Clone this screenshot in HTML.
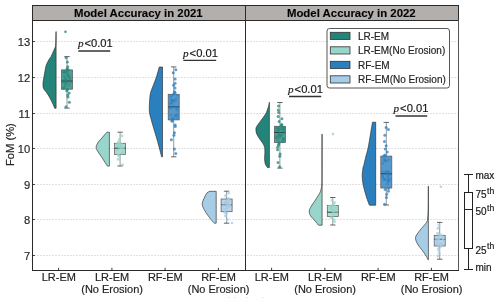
<!DOCTYPE html><html><head><meta charset="utf-8"><style>html,body{margin:0;padding:0;background:#fff;width:500px;height:303px;overflow:hidden}svg{display:block}text{font-family:"Liberation Sans",sans-serif;filter:grayscale(1);stroke:#2a2a2a;stroke-width:0.18px}</style></head><body>
<svg width="500" height="303" viewBox="0 0 500 303">
<rect width="500" height="303" fill="#fff"/>
<line x1="34" y1="255.50" x2="458" y2="255.50" stroke="#e0e0e0" stroke-width="1" stroke-dasharray="2,1"/>
<line x1="34" y1="219.50" x2="458" y2="219.50" stroke="#e0e0e0" stroke-width="1" stroke-dasharray="2,1"/>
<line x1="34" y1="184.50" x2="458" y2="184.50" stroke="#e0e0e0" stroke-width="1" stroke-dasharray="2,1"/>
<line x1="34" y1="148.50" x2="458" y2="148.50" stroke="#e0e0e0" stroke-width="1" stroke-dasharray="2,1"/>
<line x1="34" y1="113.50" x2="458" y2="113.50" stroke="#e0e0e0" stroke-width="1" stroke-dasharray="2,1"/>
<line x1="34" y1="77.50" x2="458" y2="77.50" stroke="#e0e0e0" stroke-width="1" stroke-dasharray="2,1"/>
<line x1="34" y1="41.50" x2="458" y2="41.50" stroke="#e0e0e0" stroke-width="1" stroke-dasharray="2,1"/>
<path d="M56.10,31.60 L56.00,31.60 C55.95,33.83 55.93,42.18 55.70,45.00 C55.47,47.82 55.03,47.33 54.60,48.50 C54.17,49.67 53.68,50.68 53.10,52.00 C52.52,53.32 51.83,55.07 51.10,56.40 C50.37,57.73 49.53,58.47 48.70,60.00 C47.87,61.53 46.68,63.93 46.10,65.60 C45.52,67.27 45.58,67.95 45.20,70.00 C44.82,72.05 44.17,75.70 43.80,77.90 C43.43,80.10 43.05,81.43 43.00,83.20 C42.95,84.97 42.92,86.97 43.50,88.50 C44.08,90.03 45.45,90.87 46.50,92.40 C47.55,93.93 48.80,95.93 49.80,97.70 C50.80,99.47 51.68,101.23 52.50,103.00 C53.32,104.77 54.33,107.42 54.70,108.30 L56.10,108.30 Z" fill="#23857a" stroke="#2b2b2b" stroke-width="0.65" stroke-linejoin="round"/>
<path d="M109.40,132.20 L106.90,132.20 C106.48,132.67 105.38,133.85 104.40,135.00 C103.42,136.15 102.00,137.95 101.00,139.10 C100.00,140.25 99.20,140.63 98.40,141.90 C97.60,143.17 96.35,145.20 96.20,146.70 C96.05,148.20 96.58,149.17 97.50,150.90 C98.42,152.63 100.42,155.13 101.70,157.10 C102.98,159.07 104.25,161.20 105.20,162.70 C106.15,164.20 107.03,165.53 107.40,166.10 L109.40,166.10 Z" fill="#98d5ca" stroke="#2b2b2b" stroke-width="0.65" stroke-linejoin="round"/>
<path d="M162.50,67.00 L159.30,67.00 C158.73,68.92 157.30,74.38 155.90,78.50 C154.50,82.62 151.92,88.40 150.90,91.70 C149.88,95.00 150.05,96.08 149.80,98.30 C149.55,100.52 149.48,103.05 149.40,105.00 C149.32,106.95 149.23,108.48 149.30,110.00 C149.37,111.52 149.32,111.90 149.80,114.10 C150.28,116.30 151.35,120.17 152.20,123.20 C153.05,126.23 154.00,129.27 154.90,132.30 C155.80,135.33 156.75,138.37 157.60,141.40 C158.45,144.43 159.33,147.93 160.00,150.50 C160.67,153.07 161.33,155.75 161.60,156.80 L162.50,156.80 Z" fill="#2a7fbf" stroke="#2b2b2b" stroke-width="0.65" stroke-linejoin="round"/>
<path d="M216.20,191.30 L209.80,191.30 C209.33,191.57 207.87,191.93 207.00,192.90 C206.13,193.87 205.40,195.25 204.60,197.10 C203.80,198.95 202.27,201.92 202.20,204.00 C202.13,206.08 203.28,207.75 204.20,209.60 C205.12,211.45 206.42,213.25 207.70,215.10 C208.98,216.95 210.78,219.35 211.90,220.70 C213.02,222.05 213.98,222.78 214.40,223.20 L216.20,223.20 Z" fill="#a6cce6" stroke="#2b2b2b" stroke-width="0.65" stroke-linejoin="round"/>
<path d="M269.40,102.30 L269.30,102.30 C269.23,102.75 269.10,104.08 268.90,105.00 C268.70,105.92 268.53,106.52 268.10,107.80 C267.67,109.08 267.12,111.08 266.30,112.70 C265.48,114.32 264.33,115.88 263.20,117.50 C262.07,119.12 260.65,120.77 259.50,122.40 C258.35,124.03 256.88,126.03 256.30,127.30 C255.72,128.57 255.97,128.97 256.00,130.00 C256.03,131.03 255.95,132.10 256.50,133.50 C257.05,134.90 258.25,136.77 259.30,138.40 C260.35,140.03 261.92,141.80 262.80,143.30 C263.68,144.80 264.25,145.78 264.60,147.40 C264.95,149.02 264.90,151.15 264.90,153.00 C264.90,154.85 264.53,156.67 264.60,158.50 C264.67,160.33 264.83,162.50 265.30,164.00 C265.77,165.50 267.05,166.92 267.40,167.50 L269.40,167.50 Z" fill="#23857a" stroke="#2b2b2b" stroke-width="0.65" stroke-linejoin="round"/>
<path d="M322.10,134.10 L322.00,134.10 C322.00,140.08 322.01,161.52 321.98,170.00 C321.95,178.48 321.95,181.88 321.80,185.00 C321.65,188.12 321.35,187.55 321.10,188.70 C320.85,189.85 321.13,190.18 320.30,191.90 C319.47,193.62 317.60,196.63 316.10,199.00 C314.60,201.37 312.43,204.12 311.30,206.10 C310.17,208.08 309.43,209.30 309.30,210.90 C309.17,212.50 309.50,213.98 310.50,215.70 C311.50,217.42 313.97,219.62 315.30,221.20 C316.63,222.78 317.97,224.53 318.50,225.20 L322.10,225.20 Z" fill="#98d5ca" stroke="#2b2b2b" stroke-width="0.65" stroke-linejoin="round"/>
<path d="M375.70,122.20 L372.50,122.20 C372.18,124.08 371.32,129.28 370.60,133.50 C369.88,137.72 369.00,143.62 368.20,147.50 C367.40,151.38 366.50,153.97 365.80,156.80 C365.10,159.63 364.47,162.65 364.00,164.50 C363.53,166.35 363.30,166.02 363.00,167.90 C362.70,169.78 362.20,173.15 362.20,175.80 C362.20,178.45 362.55,181.15 363.00,183.80 C363.45,186.45 364.18,189.07 364.90,191.70 C365.62,194.33 366.55,197.35 367.30,199.60 C368.05,201.85 369.05,204.27 369.40,205.20 L375.70,205.20 Z" fill="#2a7fbf" stroke="#2b2b2b" stroke-width="0.65" stroke-linejoin="round"/>
<path d="M428.40,186.20 L428.30,186.20 C428.30,189.33 428.33,200.37 428.28,205.00 C428.23,209.63 428.13,211.88 428.00,214.00 C427.87,216.12 427.70,216.37 427.50,217.70 C427.30,219.03 427.87,220.13 426.80,222.00 C425.73,223.87 422.70,226.90 421.10,228.90 C419.50,230.90 418.13,232.43 417.20,234.00 C416.27,235.57 415.42,236.58 415.50,238.30 C415.58,240.02 416.47,242.15 417.70,244.30 C418.93,246.45 421.47,249.20 422.90,251.20 C424.33,253.20 425.47,254.88 426.30,256.30 C427.13,257.72 427.63,259.13 427.90,259.70 L428.40,259.70 Z" fill="#a6cce6" stroke="#2b2b2b" stroke-width="0.65" stroke-linejoin="round"/>
<line x1="67.00" y1="56.60" x2="67.00" y2="69.90" stroke="#555" stroke-width="0.6"/>
<line x1="67.00" y1="89.20" x2="67.00" y2="108.10" stroke="#555" stroke-width="0.6"/>
<line x1="64.30" y1="56.60" x2="69.70" y2="56.60" stroke="#333" stroke-width="0.75"/>
<line x1="64.30" y1="108.10" x2="69.70" y2="108.10" stroke="#333" stroke-width="0.75"/>
<rect x="61.50" y="69.90" width="11.00" height="19.30" fill="#23857a" fill-opacity="0.8" stroke="#5a5a5a" stroke-width="0.75"/>
<line x1="61.50" y1="81.00" x2="72.50" y2="81.00" stroke="#2b2b2b" stroke-width="0.9"/>
<circle cx="64.21" cy="76.33" r="1.4" fill="#23857a" fill-opacity="0.5"/>
<circle cx="63.58" cy="82.31" r="1.4" fill="#23857a" fill-opacity="0.5"/>
<circle cx="65.93" cy="80.21" r="1.4" fill="#23857a" fill-opacity="0.5"/>
<circle cx="67.06" cy="71.46" r="1.4" fill="#23857a" fill-opacity="0.5"/>
<circle cx="66.47" cy="71.09" r="1.4" fill="#23857a" fill-opacity="0.5"/>
<circle cx="63.73" cy="71.68" r="1.4" fill="#23857a" fill-opacity="0.5"/>
<circle cx="69.61" cy="78.17" r="1.4" fill="#23857a" fill-opacity="0.5"/>
<circle cx="64.79" cy="72.67" r="1.4" fill="#23857a" fill-opacity="0.5"/>
<circle cx="70.58" cy="81.88" r="1.4" fill="#23857a" fill-opacity="0.5"/>
<circle cx="66.17" cy="80.96" r="1.4" fill="#23857a" fill-opacity="0.5"/>
<circle cx="63.37" cy="88.27" r="1.4" fill="#23857a" fill-opacity="0.5"/>
<circle cx="65.32" cy="86.11" r="1.4" fill="#23857a" fill-opacity="0.5"/>
<circle cx="63.94" cy="73.04" r="1.4" fill="#23857a" fill-opacity="0.5"/>
<circle cx="69.53" cy="76.05" r="1.4" fill="#23857a" fill-opacity="0.5"/>
<circle cx="67.65" cy="73.71" r="1.4" fill="#23857a" fill-opacity="0.5"/>
<circle cx="65.98" cy="82.09" r="1.4" fill="#23857a" fill-opacity="0.5"/>
<circle cx="63.50" cy="80.42" r="1.4" fill="#23857a" fill-opacity="0.5"/>
<circle cx="64.65" cy="71.49" r="1.4" fill="#23857a" fill-opacity="0.5"/>
<circle cx="66.42" cy="82.85" r="1.4" fill="#23857a" fill-opacity="0.5"/>
<circle cx="67.68" cy="76.15" r="1.4" fill="#23857a" fill-opacity="0.5"/>
<circle cx="65.40" cy="78.69" r="1.4" fill="#23857a" fill-opacity="0.5"/>
<circle cx="68.59" cy="84.94" r="1.4" fill="#23857a" fill-opacity="0.5"/>
<circle cx="67.60" cy="74.87" r="1.4" fill="#23857a" fill-opacity="0.5"/>
<circle cx="70.00" cy="80.01" r="1.4" fill="#23857a" fill-opacity="0.5"/>
<circle cx="65.30" cy="83.75" r="1.4" fill="#23857a" fill-opacity="0.5"/>
<circle cx="63.94" cy="88.34" r="1.4" fill="#23857a" fill-opacity="0.5"/>
<circle cx="68.23" cy="69.68" r="1.5" fill="#23857a" fill-opacity="0.75"/>
<circle cx="66.95" cy="68.63" r="1.5" fill="#23857a" fill-opacity="0.75"/>
<circle cx="67.81" cy="66.66" r="1.5" fill="#23857a" fill-opacity="0.75"/>
<circle cx="67.35" cy="61.98" r="1.5" fill="#23857a" fill-opacity="0.75"/>
<circle cx="66.11" cy="57.65" r="1.5" fill="#23857a" fill-opacity="0.75"/>
<circle cx="67.45" cy="89.52" r="1.5" fill="#23857a" fill-opacity="0.75"/>
<circle cx="66.79" cy="90.67" r="1.5" fill="#23857a" fill-opacity="0.75"/>
<circle cx="69.13" cy="93.03" r="1.5" fill="#23857a" fill-opacity="0.75"/>
<circle cx="67.79" cy="94.97" r="1.5" fill="#23857a" fill-opacity="0.75"/>
<circle cx="67.97" cy="97.11" r="1.5" fill="#23857a" fill-opacity="0.75"/>
<circle cx="69.37" cy="102.15" r="1.5" fill="#23857a" fill-opacity="0.75"/>
<circle cx="65.97" cy="106.86" r="1.5" fill="#23857a" fill-opacity="0.75"/>
<circle cx="65.50" cy="31.70" r="1.3" fill="#23857a" fill-opacity="0.8"/>
<line x1="120.10" y1="132.20" x2="120.10" y2="143.30" stroke="#555" stroke-width="0.6"/>
<line x1="120.10" y1="154.50" x2="120.10" y2="166.00" stroke="#555" stroke-width="0.6"/>
<line x1="117.40" y1="132.20" x2="122.80" y2="132.20" stroke="#333" stroke-width="0.75"/>
<line x1="117.40" y1="166.00" x2="122.80" y2="166.00" stroke="#333" stroke-width="0.75"/>
<rect x="114.60" y="143.30" width="11.00" height="11.20" fill="#98d5ca" fill-opacity="0.8" stroke="#5a5a5a" stroke-width="0.75"/>
<line x1="114.60" y1="148.20" x2="125.60" y2="148.20" stroke="#2b2b2b" stroke-width="0.9"/>
<circle cx="121.45" cy="147.74" r="1.4" fill="#98d5ca" fill-opacity="0.5"/>
<circle cx="119.79" cy="144.03" r="1.4" fill="#98d5ca" fill-opacity="0.5"/>
<circle cx="117.04" cy="145.51" r="1.4" fill="#98d5ca" fill-opacity="0.5"/>
<circle cx="122.25" cy="144.40" r="1.4" fill="#98d5ca" fill-opacity="0.5"/>
<circle cx="118.08" cy="145.12" r="1.4" fill="#98d5ca" fill-opacity="0.5"/>
<circle cx="123.07" cy="147.79" r="1.4" fill="#98d5ca" fill-opacity="0.5"/>
<circle cx="119.69" cy="144.62" r="1.4" fill="#98d5ca" fill-opacity="0.5"/>
<circle cx="123.17" cy="149.40" r="1.4" fill="#98d5ca" fill-opacity="0.5"/>
<circle cx="123.01" cy="152.16" r="1.4" fill="#98d5ca" fill-opacity="0.5"/>
<circle cx="119.42" cy="146.64" r="1.4" fill="#98d5ca" fill-opacity="0.5"/>
<circle cx="123.17" cy="147.46" r="1.4" fill="#98d5ca" fill-opacity="0.5"/>
<circle cx="117.31" cy="153.57" r="1.4" fill="#98d5ca" fill-opacity="0.5"/>
<circle cx="117.96" cy="145.60" r="1.4" fill="#98d5ca" fill-opacity="0.5"/>
<circle cx="119.98" cy="146.18" r="1.4" fill="#98d5ca" fill-opacity="0.5"/>
<circle cx="118.20" cy="149.81" r="1.4" fill="#98d5ca" fill-opacity="0.5"/>
<circle cx="119.45" cy="143.84" r="1.4" fill="#98d5ca" fill-opacity="0.5"/>
<circle cx="120.63" cy="147.57" r="1.4" fill="#98d5ca" fill-opacity="0.5"/>
<circle cx="121.62" cy="153.52" r="1.4" fill="#98d5ca" fill-opacity="0.5"/>
<circle cx="121.04" cy="149.06" r="1.4" fill="#98d5ca" fill-opacity="0.5"/>
<circle cx="116.53" cy="150.70" r="1.4" fill="#98d5ca" fill-opacity="0.5"/>
<circle cx="122.34" cy="152.98" r="1.4" fill="#98d5ca" fill-opacity="0.5"/>
<circle cx="122.48" cy="152.72" r="1.4" fill="#98d5ca" fill-opacity="0.5"/>
<circle cx="119.29" cy="147.80" r="1.4" fill="#98d5ca" fill-opacity="0.5"/>
<circle cx="121.17" cy="144.86" r="1.4" fill="#98d5ca" fill-opacity="0.5"/>
<circle cx="116.64" cy="144.43" r="1.4" fill="#98d5ca" fill-opacity="0.5"/>
<circle cx="117.40" cy="145.93" r="1.4" fill="#98d5ca" fill-opacity="0.5"/>
<circle cx="117.95" cy="143.09" r="1.5" fill="#98d5ca" fill-opacity="0.75"/>
<circle cx="118.43" cy="141.97" r="1.5" fill="#98d5ca" fill-opacity="0.75"/>
<circle cx="119.45" cy="139.22" r="1.5" fill="#98d5ca" fill-opacity="0.75"/>
<circle cx="121.90" cy="135.83" r="1.5" fill="#98d5ca" fill-opacity="0.75"/>
<circle cx="118.41" cy="154.93" r="1.5" fill="#98d5ca" fill-opacity="0.75"/>
<circle cx="119.37" cy="156.26" r="1.5" fill="#98d5ca" fill-opacity="0.75"/>
<circle cx="118.29" cy="159.34" r="1.5" fill="#98d5ca" fill-opacity="0.75"/>
<circle cx="122.47" cy="164.78" r="1.5" fill="#98d5ca" fill-opacity="0.75"/>
<line x1="173.70" y1="66.90" x2="173.70" y2="94.30" stroke="#555" stroke-width="0.6"/>
<line x1="173.70" y1="119.90" x2="173.70" y2="156.80" stroke="#555" stroke-width="0.6"/>
<line x1="171.00" y1="66.90" x2="176.40" y2="66.90" stroke="#333" stroke-width="0.75"/>
<line x1="171.00" y1="156.80" x2="176.40" y2="156.80" stroke="#333" stroke-width="0.75"/>
<rect x="168.20" y="94.30" width="11.00" height="25.60" fill="#2a7fbf" fill-opacity="0.8" stroke="#5a5a5a" stroke-width="0.75"/>
<line x1="168.20" y1="106.90" x2="179.20" y2="106.90" stroke="#2b2b2b" stroke-width="0.9"/>
<circle cx="173.57" cy="106.26" r="1.4" fill="#2a7fbf" fill-opacity="0.5"/>
<circle cx="170.52" cy="96.91" r="1.4" fill="#2a7fbf" fill-opacity="0.5"/>
<circle cx="171.82" cy="103.23" r="1.4" fill="#2a7fbf" fill-opacity="0.5"/>
<circle cx="170.99" cy="115.19" r="1.4" fill="#2a7fbf" fill-opacity="0.5"/>
<circle cx="177.31" cy="95.37" r="1.4" fill="#2a7fbf" fill-opacity="0.5"/>
<circle cx="170.87" cy="107.80" r="1.4" fill="#2a7fbf" fill-opacity="0.5"/>
<circle cx="169.92" cy="108.16" r="1.4" fill="#2a7fbf" fill-opacity="0.5"/>
<circle cx="177.53" cy="107.79" r="1.4" fill="#2a7fbf" fill-opacity="0.5"/>
<circle cx="175.27" cy="116.04" r="1.4" fill="#2a7fbf" fill-opacity="0.5"/>
<circle cx="172.63" cy="101.22" r="1.4" fill="#2a7fbf" fill-opacity="0.5"/>
<circle cx="175.88" cy="98.91" r="1.4" fill="#2a7fbf" fill-opacity="0.5"/>
<circle cx="175.93" cy="107.90" r="1.4" fill="#2a7fbf" fill-opacity="0.5"/>
<circle cx="171.48" cy="102.91" r="1.4" fill="#2a7fbf" fill-opacity="0.5"/>
<circle cx="177.58" cy="114.76" r="1.4" fill="#2a7fbf" fill-opacity="0.5"/>
<circle cx="176.15" cy="115.77" r="1.4" fill="#2a7fbf" fill-opacity="0.5"/>
<circle cx="175.62" cy="114.93" r="1.4" fill="#2a7fbf" fill-opacity="0.5"/>
<circle cx="173.84" cy="100.38" r="1.4" fill="#2a7fbf" fill-opacity="0.5"/>
<circle cx="169.93" cy="103.55" r="1.4" fill="#2a7fbf" fill-opacity="0.5"/>
<circle cx="171.94" cy="95.49" r="1.4" fill="#2a7fbf" fill-opacity="0.5"/>
<circle cx="175.24" cy="101.18" r="1.4" fill="#2a7fbf" fill-opacity="0.5"/>
<circle cx="173.28" cy="118.33" r="1.4" fill="#2a7fbf" fill-opacity="0.5"/>
<circle cx="177.60" cy="117.85" r="1.4" fill="#2a7fbf" fill-opacity="0.5"/>
<circle cx="172.62" cy="118.29" r="1.4" fill="#2a7fbf" fill-opacity="0.5"/>
<circle cx="171.51" cy="100.22" r="1.4" fill="#2a7fbf" fill-opacity="0.5"/>
<circle cx="171.33" cy="99.64" r="1.4" fill="#2a7fbf" fill-opacity="0.5"/>
<circle cx="176.90" cy="110.15" r="1.4" fill="#2a7fbf" fill-opacity="0.5"/>
<circle cx="173.60" cy="93.91" r="1.5" fill="#2a7fbf" fill-opacity="0.75"/>
<circle cx="175.14" cy="92.84" r="1.5" fill="#2a7fbf" fill-opacity="0.75"/>
<circle cx="174.47" cy="91.78" r="1.5" fill="#2a7fbf" fill-opacity="0.75"/>
<circle cx="175.06" cy="88.01" r="1.5" fill="#2a7fbf" fill-opacity="0.75"/>
<circle cx="173.59" cy="85.30" r="1.5" fill="#2a7fbf" fill-opacity="0.75"/>
<circle cx="175.09" cy="83.25" r="1.5" fill="#2a7fbf" fill-opacity="0.75"/>
<circle cx="175.14" cy="79.02" r="1.5" fill="#2a7fbf" fill-opacity="0.75"/>
<circle cx="173.20" cy="72.68" r="1.5" fill="#2a7fbf" fill-opacity="0.75"/>
<circle cx="175.84" cy="69.78" r="1.5" fill="#2a7fbf" fill-opacity="0.75"/>
<circle cx="172.12" cy="120.33" r="1.5" fill="#2a7fbf" fill-opacity="0.75"/>
<circle cx="172.03" cy="121.17" r="1.5" fill="#2a7fbf" fill-opacity="0.75"/>
<circle cx="175.17" cy="124.92" r="1.5" fill="#2a7fbf" fill-opacity="0.75"/>
<circle cx="175.27" cy="126.44" r="1.5" fill="#2a7fbf" fill-opacity="0.75"/>
<circle cx="174.45" cy="132.74" r="1.5" fill="#2a7fbf" fill-opacity="0.75"/>
<circle cx="173.93" cy="135.36" r="1.5" fill="#2a7fbf" fill-opacity="0.75"/>
<circle cx="171.37" cy="139.71" r="1.5" fill="#2a7fbf" fill-opacity="0.75"/>
<circle cx="174.42" cy="149.02" r="1.5" fill="#2a7fbf" fill-opacity="0.75"/>
<circle cx="175.78" cy="153.51" r="1.5" fill="#2a7fbf" fill-opacity="0.75"/>
<line x1="226.60" y1="191.20" x2="226.60" y2="199.00" stroke="#555" stroke-width="0.6"/>
<line x1="226.60" y1="211.70" x2="226.60" y2="223.20" stroke="#555" stroke-width="0.6"/>
<line x1="223.90" y1="191.20" x2="229.30" y2="191.20" stroke="#333" stroke-width="0.75"/>
<line x1="223.90" y1="223.20" x2="229.30" y2="223.20" stroke="#333" stroke-width="0.75"/>
<rect x="221.10" y="199.00" width="11.00" height="12.70" fill="#a6cce6" fill-opacity="0.8" stroke="#5a5a5a" stroke-width="0.75"/>
<line x1="221.10" y1="204.80" x2="232.10" y2="204.80" stroke="#2b2b2b" stroke-width="0.9"/>
<circle cx="229.57" cy="204.58" r="1.4" fill="#a6cce6" fill-opacity="0.5"/>
<circle cx="224.29" cy="209.17" r="1.4" fill="#a6cce6" fill-opacity="0.5"/>
<circle cx="224.94" cy="202.45" r="1.4" fill="#a6cce6" fill-opacity="0.5"/>
<circle cx="227.29" cy="202.31" r="1.4" fill="#a6cce6" fill-opacity="0.5"/>
<circle cx="225.95" cy="202.53" r="1.4" fill="#a6cce6" fill-opacity="0.5"/>
<circle cx="229.88" cy="201.03" r="1.4" fill="#a6cce6" fill-opacity="0.5"/>
<circle cx="226.27" cy="203.64" r="1.4" fill="#a6cce6" fill-opacity="0.5"/>
<circle cx="229.83" cy="206.33" r="1.4" fill="#a6cce6" fill-opacity="0.5"/>
<circle cx="229.94" cy="204.42" r="1.4" fill="#a6cce6" fill-opacity="0.5"/>
<circle cx="226.85" cy="205.37" r="1.4" fill="#a6cce6" fill-opacity="0.5"/>
<circle cx="222.75" cy="205.63" r="1.4" fill="#a6cce6" fill-opacity="0.5"/>
<circle cx="224.06" cy="204.65" r="1.4" fill="#a6cce6" fill-opacity="0.5"/>
<circle cx="228.99" cy="199.55" r="1.4" fill="#a6cce6" fill-opacity="0.5"/>
<circle cx="226.39" cy="201.52" r="1.4" fill="#a6cce6" fill-opacity="0.5"/>
<circle cx="227.05" cy="207.98" r="1.4" fill="#a6cce6" fill-opacity="0.5"/>
<circle cx="226.75" cy="203.31" r="1.4" fill="#a6cce6" fill-opacity="0.5"/>
<circle cx="228.87" cy="206.00" r="1.4" fill="#a6cce6" fill-opacity="0.5"/>
<circle cx="227.08" cy="200.74" r="1.4" fill="#a6cce6" fill-opacity="0.5"/>
<circle cx="224.82" cy="202.41" r="1.4" fill="#a6cce6" fill-opacity="0.5"/>
<circle cx="226.66" cy="208.54" r="1.4" fill="#a6cce6" fill-opacity="0.5"/>
<circle cx="228.68" cy="206.07" r="1.4" fill="#a6cce6" fill-opacity="0.5"/>
<circle cx="226.15" cy="210.18" r="1.4" fill="#a6cce6" fill-opacity="0.5"/>
<circle cx="226.64" cy="206.67" r="1.4" fill="#a6cce6" fill-opacity="0.5"/>
<circle cx="228.14" cy="205.49" r="1.4" fill="#a6cce6" fill-opacity="0.5"/>
<circle cx="226.87" cy="204.79" r="1.4" fill="#a6cce6" fill-opacity="0.5"/>
<circle cx="230.13" cy="205.09" r="1.4" fill="#a6cce6" fill-opacity="0.5"/>
<circle cx="228.41" cy="198.44" r="1.5" fill="#a6cce6" fill-opacity="0.75"/>
<circle cx="225.45" cy="195.70" r="1.5" fill="#a6cce6" fill-opacity="0.75"/>
<circle cx="228.73" cy="193.12" r="1.5" fill="#a6cce6" fill-opacity="0.75"/>
<circle cx="224.86" cy="212.35" r="1.5" fill="#a6cce6" fill-opacity="0.75"/>
<circle cx="226.32" cy="213.26" r="1.5" fill="#a6cce6" fill-opacity="0.75"/>
<circle cx="225.36" cy="215.86" r="1.5" fill="#a6cce6" fill-opacity="0.75"/>
<circle cx="227.41" cy="219.57" r="1.5" fill="#a6cce6" fill-opacity="0.75"/>
<circle cx="232.00" cy="223.00" r="1.3" fill="#a6cce6" fill-opacity="0.8"/>
<line x1="279.90" y1="102.50" x2="279.90" y2="126.30" stroke="#555" stroke-width="0.6"/>
<line x1="279.90" y1="142.40" x2="279.90" y2="168.10" stroke="#555" stroke-width="0.6"/>
<line x1="277.20" y1="102.50" x2="282.60" y2="102.50" stroke="#333" stroke-width="0.75"/>
<line x1="277.20" y1="168.10" x2="282.60" y2="168.10" stroke="#333" stroke-width="0.75"/>
<rect x="274.40" y="126.30" width="11.00" height="16.10" fill="#23857a" fill-opacity="0.8" stroke="#5a5a5a" stroke-width="0.75"/>
<line x1="274.40" y1="132.40" x2="285.40" y2="132.40" stroke="#2b2b2b" stroke-width="0.9"/>
<circle cx="283.08" cy="138.64" r="1.4" fill="#23857a" fill-opacity="0.5"/>
<circle cx="281.63" cy="129.13" r="1.4" fill="#23857a" fill-opacity="0.5"/>
<circle cx="277.04" cy="136.77" r="1.4" fill="#23857a" fill-opacity="0.5"/>
<circle cx="283.64" cy="140.13" r="1.4" fill="#23857a" fill-opacity="0.5"/>
<circle cx="283.52" cy="130.12" r="1.4" fill="#23857a" fill-opacity="0.5"/>
<circle cx="279.80" cy="132.81" r="1.4" fill="#23857a" fill-opacity="0.5"/>
<circle cx="282.56" cy="141.75" r="1.4" fill="#23857a" fill-opacity="0.5"/>
<circle cx="279.35" cy="129.24" r="1.4" fill="#23857a" fill-opacity="0.5"/>
<circle cx="278.61" cy="134.59" r="1.4" fill="#23857a" fill-opacity="0.5"/>
<circle cx="278.45" cy="129.76" r="1.4" fill="#23857a" fill-opacity="0.5"/>
<circle cx="276.06" cy="137.70" r="1.4" fill="#23857a" fill-opacity="0.5"/>
<circle cx="279.42" cy="135.17" r="1.4" fill="#23857a" fill-opacity="0.5"/>
<circle cx="278.55" cy="127.07" r="1.4" fill="#23857a" fill-opacity="0.5"/>
<circle cx="280.00" cy="136.22" r="1.4" fill="#23857a" fill-opacity="0.5"/>
<circle cx="283.78" cy="127.77" r="1.4" fill="#23857a" fill-opacity="0.5"/>
<circle cx="283.67" cy="138.70" r="1.4" fill="#23857a" fill-opacity="0.5"/>
<circle cx="278.02" cy="128.38" r="1.4" fill="#23857a" fill-opacity="0.5"/>
<circle cx="282.13" cy="127.40" r="1.4" fill="#23857a" fill-opacity="0.5"/>
<circle cx="276.94" cy="130.88" r="1.4" fill="#23857a" fill-opacity="0.5"/>
<circle cx="283.19" cy="133.18" r="1.4" fill="#23857a" fill-opacity="0.5"/>
<circle cx="277.97" cy="139.17" r="1.4" fill="#23857a" fill-opacity="0.5"/>
<circle cx="283.25" cy="129.06" r="1.4" fill="#23857a" fill-opacity="0.5"/>
<circle cx="281.50" cy="135.42" r="1.4" fill="#23857a" fill-opacity="0.5"/>
<circle cx="276.36" cy="128.15" r="1.4" fill="#23857a" fill-opacity="0.5"/>
<circle cx="279.30" cy="137.19" r="1.4" fill="#23857a" fill-opacity="0.5"/>
<circle cx="283.41" cy="127.89" r="1.4" fill="#23857a" fill-opacity="0.5"/>
<circle cx="281.35" cy="126.07" r="1.5" fill="#23857a" fill-opacity="0.75"/>
<circle cx="281.61" cy="125.52" r="1.5" fill="#23857a" fill-opacity="0.75"/>
<circle cx="281.64" cy="124.14" r="1.5" fill="#23857a" fill-opacity="0.75"/>
<circle cx="279.13" cy="121.60" r="1.5" fill="#23857a" fill-opacity="0.75"/>
<circle cx="281.95" cy="118.87" r="1.5" fill="#23857a" fill-opacity="0.75"/>
<circle cx="278.12" cy="116.51" r="1.5" fill="#23857a" fill-opacity="0.75"/>
<circle cx="278.64" cy="112.55" r="1.5" fill="#23857a" fill-opacity="0.75"/>
<circle cx="278.27" cy="109.91" r="1.5" fill="#23857a" fill-opacity="0.75"/>
<circle cx="278.47" cy="106.05" r="1.5" fill="#23857a" fill-opacity="0.75"/>
<circle cx="278.96" cy="142.51" r="1.5" fill="#23857a" fill-opacity="0.75"/>
<circle cx="278.89" cy="143.88" r="1.5" fill="#23857a" fill-opacity="0.75"/>
<circle cx="278.35" cy="145.31" r="1.5" fill="#23857a" fill-opacity="0.75"/>
<circle cx="277.59" cy="147.29" r="1.5" fill="#23857a" fill-opacity="0.75"/>
<circle cx="277.57" cy="149.80" r="1.5" fill="#23857a" fill-opacity="0.75"/>
<circle cx="280.15" cy="154.09" r="1.5" fill="#23857a" fill-opacity="0.75"/>
<circle cx="279.78" cy="156.35" r="1.5" fill="#23857a" fill-opacity="0.75"/>
<circle cx="278.01" cy="162.57" r="1.5" fill="#23857a" fill-opacity="0.75"/>
<circle cx="279.57" cy="166.77" r="1.5" fill="#23857a" fill-opacity="0.75"/>
<line x1="332.80" y1="197.50" x2="332.80" y2="205.40" stroke="#555" stroke-width="0.6"/>
<line x1="332.80" y1="216.40" x2="332.80" y2="225.00" stroke="#555" stroke-width="0.6"/>
<line x1="330.10" y1="197.50" x2="335.50" y2="197.50" stroke="#333" stroke-width="0.75"/>
<line x1="330.10" y1="225.00" x2="335.50" y2="225.00" stroke="#333" stroke-width="0.75"/>
<rect x="327.30" y="205.40" width="11.00" height="11.00" fill="#98d5ca" fill-opacity="0.8" stroke="#5a5a5a" stroke-width="0.75"/>
<line x1="327.30" y1="212.20" x2="338.30" y2="212.20" stroke="#2b2b2b" stroke-width="0.9"/>
<circle cx="335.48" cy="210.85" r="1.4" fill="#98d5ca" fill-opacity="0.5"/>
<circle cx="332.85" cy="209.83" r="1.4" fill="#98d5ca" fill-opacity="0.5"/>
<circle cx="336.66" cy="212.78" r="1.4" fill="#98d5ca" fill-opacity="0.5"/>
<circle cx="335.46" cy="209.33" r="1.4" fill="#98d5ca" fill-opacity="0.5"/>
<circle cx="333.89" cy="212.97" r="1.4" fill="#98d5ca" fill-opacity="0.5"/>
<circle cx="331.58" cy="209.95" r="1.4" fill="#98d5ca" fill-opacity="0.5"/>
<circle cx="329.84" cy="206.44" r="1.4" fill="#98d5ca" fill-opacity="0.5"/>
<circle cx="334.73" cy="206.61" r="1.4" fill="#98d5ca" fill-opacity="0.5"/>
<circle cx="330.11" cy="208.46" r="1.4" fill="#98d5ca" fill-opacity="0.5"/>
<circle cx="335.53" cy="206.74" r="1.4" fill="#98d5ca" fill-opacity="0.5"/>
<circle cx="334.16" cy="214.61" r="1.4" fill="#98d5ca" fill-opacity="0.5"/>
<circle cx="330.74" cy="208.72" r="1.4" fill="#98d5ca" fill-opacity="0.5"/>
<circle cx="332.48" cy="208.83" r="1.4" fill="#98d5ca" fill-opacity="0.5"/>
<circle cx="332.37" cy="207.48" r="1.4" fill="#98d5ca" fill-opacity="0.5"/>
<circle cx="336.49" cy="208.53" r="1.4" fill="#98d5ca" fill-opacity="0.5"/>
<circle cx="333.18" cy="215.63" r="1.4" fill="#98d5ca" fill-opacity="0.5"/>
<circle cx="336.53" cy="208.34" r="1.4" fill="#98d5ca" fill-opacity="0.5"/>
<circle cx="331.65" cy="209.00" r="1.4" fill="#98d5ca" fill-opacity="0.5"/>
<circle cx="331.85" cy="205.91" r="1.4" fill="#98d5ca" fill-opacity="0.5"/>
<circle cx="332.82" cy="210.65" r="1.4" fill="#98d5ca" fill-opacity="0.5"/>
<circle cx="332.84" cy="207.91" r="1.4" fill="#98d5ca" fill-opacity="0.5"/>
<circle cx="330.91" cy="205.95" r="1.4" fill="#98d5ca" fill-opacity="0.5"/>
<circle cx="332.00" cy="206.80" r="1.4" fill="#98d5ca" fill-opacity="0.5"/>
<circle cx="328.98" cy="206.32" r="1.4" fill="#98d5ca" fill-opacity="0.5"/>
<circle cx="330.66" cy="208.94" r="1.4" fill="#98d5ca" fill-opacity="0.5"/>
<circle cx="333.03" cy="211.76" r="1.4" fill="#98d5ca" fill-opacity="0.5"/>
<circle cx="333.56" cy="204.77" r="1.5" fill="#98d5ca" fill-opacity="0.75"/>
<circle cx="334.62" cy="202.54" r="1.5" fill="#98d5ca" fill-opacity="0.75"/>
<circle cx="331.97" cy="199.91" r="1.5" fill="#98d5ca" fill-opacity="0.75"/>
<circle cx="331.12" cy="217.39" r="1.5" fill="#98d5ca" fill-opacity="0.75"/>
<circle cx="333.49" cy="219.53" r="1.5" fill="#98d5ca" fill-opacity="0.75"/>
<circle cx="334.41" cy="221.40" r="1.5" fill="#98d5ca" fill-opacity="0.75"/>
<circle cx="333.00" cy="134.10" r="1.3" fill="#98d5ca" fill-opacity="0.8"/>
<line x1="386.30" y1="122.40" x2="386.30" y2="156.10" stroke="#555" stroke-width="0.6"/>
<line x1="386.30" y1="188.00" x2="386.30" y2="205.00" stroke="#555" stroke-width="0.6"/>
<line x1="383.60" y1="122.40" x2="389.00" y2="122.40" stroke="#333" stroke-width="0.75"/>
<line x1="383.60" y1="205.00" x2="389.00" y2="205.00" stroke="#333" stroke-width="0.75"/>
<rect x="380.80" y="156.10" width="11.00" height="31.90" fill="#2a7fbf" fill-opacity="0.8" stroke="#5a5a5a" stroke-width="0.75"/>
<line x1="380.80" y1="173.80" x2="391.80" y2="173.80" stroke="#2b2b2b" stroke-width="0.9"/>
<circle cx="387.32" cy="184.16" r="1.4" fill="#2a7fbf" fill-opacity="0.5"/>
<circle cx="388.80" cy="179.28" r="1.4" fill="#2a7fbf" fill-opacity="0.5"/>
<circle cx="386.49" cy="160.90" r="1.4" fill="#2a7fbf" fill-opacity="0.5"/>
<circle cx="388.98" cy="172.19" r="1.4" fill="#2a7fbf" fill-opacity="0.5"/>
<circle cx="388.91" cy="181.46" r="1.4" fill="#2a7fbf" fill-opacity="0.5"/>
<circle cx="389.44" cy="174.65" r="1.4" fill="#2a7fbf" fill-opacity="0.5"/>
<circle cx="387.85" cy="177.70" r="1.4" fill="#2a7fbf" fill-opacity="0.5"/>
<circle cx="382.55" cy="163.71" r="1.4" fill="#2a7fbf" fill-opacity="0.5"/>
<circle cx="385.19" cy="160.71" r="1.4" fill="#2a7fbf" fill-opacity="0.5"/>
<circle cx="388.99" cy="159.84" r="1.4" fill="#2a7fbf" fill-opacity="0.5"/>
<circle cx="387.32" cy="173.86" r="1.4" fill="#2a7fbf" fill-opacity="0.5"/>
<circle cx="387.75" cy="175.95" r="1.4" fill="#2a7fbf" fill-opacity="0.5"/>
<circle cx="382.33" cy="171.72" r="1.4" fill="#2a7fbf" fill-opacity="0.5"/>
<circle cx="388.29" cy="181.25" r="1.4" fill="#2a7fbf" fill-opacity="0.5"/>
<circle cx="386.58" cy="172.14" r="1.4" fill="#2a7fbf" fill-opacity="0.5"/>
<circle cx="382.83" cy="176.97" r="1.4" fill="#2a7fbf" fill-opacity="0.5"/>
<circle cx="384.32" cy="179.37" r="1.4" fill="#2a7fbf" fill-opacity="0.5"/>
<circle cx="384.42" cy="158.90" r="1.4" fill="#2a7fbf" fill-opacity="0.5"/>
<circle cx="383.94" cy="179.14" r="1.4" fill="#2a7fbf" fill-opacity="0.5"/>
<circle cx="390.11" cy="179.46" r="1.4" fill="#2a7fbf" fill-opacity="0.5"/>
<circle cx="385.36" cy="171.86" r="1.4" fill="#2a7fbf" fill-opacity="0.5"/>
<circle cx="387.77" cy="171.40" r="1.4" fill="#2a7fbf" fill-opacity="0.5"/>
<circle cx="387.24" cy="180.30" r="1.4" fill="#2a7fbf" fill-opacity="0.5"/>
<circle cx="382.92" cy="176.46" r="1.4" fill="#2a7fbf" fill-opacity="0.5"/>
<circle cx="384.33" cy="161.16" r="1.4" fill="#2a7fbf" fill-opacity="0.5"/>
<circle cx="384.74" cy="179.57" r="1.4" fill="#2a7fbf" fill-opacity="0.5"/>
<circle cx="383.96" cy="155.81" r="1.5" fill="#2a7fbf" fill-opacity="0.75"/>
<circle cx="385.19" cy="155.02" r="1.5" fill="#2a7fbf" fill-opacity="0.75"/>
<circle cx="387.22" cy="151.96" r="1.5" fill="#2a7fbf" fill-opacity="0.75"/>
<circle cx="385.30" cy="148.92" r="1.5" fill="#2a7fbf" fill-opacity="0.75"/>
<circle cx="386.13" cy="145.68" r="1.5" fill="#2a7fbf" fill-opacity="0.75"/>
<circle cx="384.47" cy="141.62" r="1.5" fill="#2a7fbf" fill-opacity="0.75"/>
<circle cx="384.86" cy="135.30" r="1.5" fill="#2a7fbf" fill-opacity="0.75"/>
<circle cx="388.39" cy="129.48" r="1.5" fill="#2a7fbf" fill-opacity="0.75"/>
<circle cx="386.10" cy="127.56" r="1.5" fill="#2a7fbf" fill-opacity="0.75"/>
<circle cx="388.55" cy="188.47" r="1.5" fill="#2a7fbf" fill-opacity="0.75"/>
<circle cx="385.19" cy="189.55" r="1.5" fill="#2a7fbf" fill-opacity="0.75"/>
<circle cx="388.44" cy="191.32" r="1.5" fill="#2a7fbf" fill-opacity="0.75"/>
<circle cx="386.69" cy="194.14" r="1.5" fill="#2a7fbf" fill-opacity="0.75"/>
<circle cx="386.42" cy="197.46" r="1.5" fill="#2a7fbf" fill-opacity="0.75"/>
<circle cx="384.54" cy="204.13" r="1.5" fill="#2a7fbf" fill-opacity="0.75"/>
<line x1="439.70" y1="222.40" x2="439.70" y2="235.30" stroke="#555" stroke-width="0.6"/>
<line x1="439.70" y1="246.00" x2="439.70" y2="259.20" stroke="#555" stroke-width="0.6"/>
<line x1="437.00" y1="222.40" x2="442.40" y2="222.40" stroke="#333" stroke-width="0.75"/>
<line x1="437.00" y1="259.20" x2="442.40" y2="259.20" stroke="#333" stroke-width="0.75"/>
<rect x="434.20" y="235.30" width="11.00" height="10.70" fill="#a6cce6" fill-opacity="0.8" stroke="#5a5a5a" stroke-width="0.75"/>
<line x1="434.20" y1="239.30" x2="445.20" y2="239.30" stroke="#2b2b2b" stroke-width="0.9"/>
<circle cx="439.77" cy="243.76" r="1.4" fill="#a6cce6" fill-opacity="0.5"/>
<circle cx="441.33" cy="244.40" r="1.4" fill="#a6cce6" fill-opacity="0.5"/>
<circle cx="442.88" cy="238.04" r="1.4" fill="#a6cce6" fill-opacity="0.5"/>
<circle cx="435.90" cy="240.52" r="1.4" fill="#a6cce6" fill-opacity="0.5"/>
<circle cx="439.63" cy="235.83" r="1.4" fill="#a6cce6" fill-opacity="0.5"/>
<circle cx="438.12" cy="240.17" r="1.4" fill="#a6cce6" fill-opacity="0.5"/>
<circle cx="438.45" cy="237.16" r="1.4" fill="#a6cce6" fill-opacity="0.5"/>
<circle cx="442.42" cy="238.87" r="1.4" fill="#a6cce6" fill-opacity="0.5"/>
<circle cx="441.71" cy="235.82" r="1.4" fill="#a6cce6" fill-opacity="0.5"/>
<circle cx="436.66" cy="243.94" r="1.4" fill="#a6cce6" fill-opacity="0.5"/>
<circle cx="441.40" cy="244.79" r="1.4" fill="#a6cce6" fill-opacity="0.5"/>
<circle cx="438.02" cy="244.55" r="1.4" fill="#a6cce6" fill-opacity="0.5"/>
<circle cx="438.84" cy="239.41" r="1.4" fill="#a6cce6" fill-opacity="0.5"/>
<circle cx="440.41" cy="245.49" r="1.4" fill="#a6cce6" fill-opacity="0.5"/>
<circle cx="439.12" cy="239.30" r="1.4" fill="#a6cce6" fill-opacity="0.5"/>
<circle cx="436.09" cy="238.47" r="1.4" fill="#a6cce6" fill-opacity="0.5"/>
<circle cx="442.38" cy="236.79" r="1.4" fill="#a6cce6" fill-opacity="0.5"/>
<circle cx="443.18" cy="238.57" r="1.4" fill="#a6cce6" fill-opacity="0.5"/>
<circle cx="437.83" cy="238.22" r="1.4" fill="#a6cce6" fill-opacity="0.5"/>
<circle cx="437.22" cy="240.76" r="1.4" fill="#a6cce6" fill-opacity="0.5"/>
<circle cx="443.35" cy="239.42" r="1.4" fill="#a6cce6" fill-opacity="0.5"/>
<circle cx="442.20" cy="244.38" r="1.4" fill="#a6cce6" fill-opacity="0.5"/>
<circle cx="443.01" cy="241.92" r="1.4" fill="#a6cce6" fill-opacity="0.5"/>
<circle cx="440.09" cy="244.92" r="1.4" fill="#a6cce6" fill-opacity="0.5"/>
<circle cx="436.10" cy="242.78" r="1.4" fill="#a6cce6" fill-opacity="0.5"/>
<circle cx="439.31" cy="242.90" r="1.4" fill="#a6cce6" fill-opacity="0.5"/>
<circle cx="440.39" cy="234.67" r="1.5" fill="#a6cce6" fill-opacity="0.75"/>
<circle cx="437.54" cy="233.26" r="1.5" fill="#a6cce6" fill-opacity="0.75"/>
<circle cx="437.91" cy="228.27" r="1.5" fill="#a6cce6" fill-opacity="0.75"/>
<circle cx="438.95" cy="225.12" r="1.5" fill="#a6cce6" fill-opacity="0.75"/>
<circle cx="440.85" cy="246.15" r="1.5" fill="#a6cce6" fill-opacity="0.75"/>
<circle cx="438.55" cy="248.40" r="1.5" fill="#a6cce6" fill-opacity="0.75"/>
<circle cx="438.74" cy="250.37" r="1.5" fill="#a6cce6" fill-opacity="0.75"/>
<circle cx="439.19" cy="253.34" r="1.5" fill="#a6cce6" fill-opacity="0.75"/>
<circle cx="438.08" cy="256.08" r="1.5" fill="#a6cce6" fill-opacity="0.75"/>
<circle cx="440.90" cy="186.70" r="1.3" fill="#a6cce6" fill-opacity="0.8"/>
<text x="77.90" y="46.50" font-size="11.2" fill="#111"><tspan font-family="Liberation Serif" font-style="italic">p</tspan><tspan dx="0.9">&lt;0.01</tspan></text>
<line x1="78.30" y1="51.00" x2="110.20" y2="51.00" stroke="#333" stroke-width="1.3"/>
<text x="183.10" y="56.50" font-size="11.2" fill="#111"><tspan font-family="Liberation Serif" font-style="italic">p</tspan><tspan dx="0.9">&lt;0.01</tspan></text>
<line x1="183.30" y1="60.30" x2="216.20" y2="60.30" stroke="#333" stroke-width="1.3"/>
<text x="288.10" y="93.00" font-size="11.2" fill="#111"><tspan font-family="Liberation Serif" font-style="italic">p</tspan><tspan dx="0.9">&lt;0.01</tspan></text>
<line x1="289.00" y1="96.50" x2="321.20" y2="96.50" stroke="#333" stroke-width="1.3"/>
<text x="393.60" y="111.50" font-size="11.2" fill="#111"><tspan font-family="Liberation Serif" font-style="italic">p</tspan><tspan dx="0.9">&lt;0.01</tspan></text>
<line x1="395.50" y1="116.00" x2="427.20" y2="116.00" stroke="#333" stroke-width="1.3"/>
<rect x="32.50" y="5.5" width="213.00" height="15" fill="#b3afad" stroke="#2a2a2a" stroke-width="1"/>
<text x="138.30" y="17" font-size="11.4" font-weight="bold" text-anchor="middle" fill="#000">Model Accuracy in 2021</text>
<rect x="245.50" y="5.5" width="213.00" height="15" fill="#b3afad" stroke="#2a2a2a" stroke-width="1"/>
<text x="351.30" y="17" font-size="11.4" font-weight="bold" text-anchor="middle" fill="#000">Model Accuracy in 2022</text>
<line x1="32.5" y1="20" x2="32.5" y2="270.5" stroke="#2a2a2a" stroke-width="1"/>
<line x1="245.5" y1="20" x2="245.5" y2="270.5" stroke="#2a2a2a" stroke-width="1"/>
<line x1="458.5" y1="20" x2="458.5" y2="270.5" stroke="#555" stroke-width="1"/>
<line x1="32" y1="270.5" x2="459" y2="270.5" stroke="#2a2a2a" stroke-width="1"/>
<line x1="32.5" y1="255.50" x2="34.8" y2="255.50" stroke="#222" stroke-width="0.9"/>
<text x="30.2" y="260.10" font-size="11.2" text-anchor="end" fill="#2a2a2a">7</text>
<line x1="32.5" y1="219.50" x2="34.8" y2="219.50" stroke="#222" stroke-width="0.9"/>
<text x="30.2" y="224.10" font-size="11.2" text-anchor="end" fill="#2a2a2a">8</text>
<line x1="32.5" y1="184.50" x2="34.8" y2="184.50" stroke="#222" stroke-width="0.9"/>
<text x="30.2" y="189.10" font-size="11.2" text-anchor="end" fill="#2a2a2a">9</text>
<line x1="32.5" y1="148.50" x2="34.8" y2="148.50" stroke="#222" stroke-width="0.9"/>
<text x="30.2" y="153.10" font-size="11.2" text-anchor="end" fill="#2a2a2a">10</text>
<line x1="32.5" y1="113.50" x2="34.8" y2="113.50" stroke="#222" stroke-width="0.9"/>
<text x="30.2" y="118.10" font-size="11.2" text-anchor="end" fill="#2a2a2a">11</text>
<line x1="32.5" y1="77.50" x2="34.8" y2="77.50" stroke="#222" stroke-width="0.9"/>
<text x="30.2" y="82.10" font-size="11.2" text-anchor="end" fill="#2a2a2a">12</text>
<line x1="32.5" y1="41.50" x2="34.8" y2="41.50" stroke="#222" stroke-width="0.9"/>
<text x="30.2" y="46.10" font-size="11.2" text-anchor="end" fill="#2a2a2a">13</text>
<line x1="58.60" y1="267.8" x2="58.60" y2="270.5" stroke="#222" stroke-width="0.9"/>
<text x="58.80" y="280.7" font-size="11" text-anchor="middle" fill="#222">LR-EM</text>
<line x1="111.90" y1="267.8" x2="111.90" y2="270.5" stroke="#222" stroke-width="0.9"/>
<text x="112.10" y="280.7" font-size="11" text-anchor="middle" fill="#222">LR-EM</text>
<text x="112.10" y="292.8" font-size="11" text-anchor="middle" fill="#222">(No Erosion)</text>
<line x1="165.10" y1="267.8" x2="165.10" y2="270.5" stroke="#222" stroke-width="0.9"/>
<text x="165.30" y="280.7" font-size="11" text-anchor="middle" fill="#222">RF-EM</text>
<line x1="218.40" y1="267.8" x2="218.40" y2="270.5" stroke="#222" stroke-width="0.9"/>
<text x="218.60" y="280.7" font-size="11" text-anchor="middle" fill="#222">RF-EM</text>
<text x="218.60" y="292.8" font-size="11" text-anchor="middle" fill="#222">(No Erosion)</text>
<line x1="271.60" y1="267.8" x2="271.60" y2="270.5" stroke="#222" stroke-width="0.9"/>
<text x="271.80" y="280.7" font-size="11" text-anchor="middle" fill="#222">LR-EM</text>
<line x1="324.90" y1="267.8" x2="324.90" y2="270.5" stroke="#222" stroke-width="0.9"/>
<text x="325.10" y="280.7" font-size="11" text-anchor="middle" fill="#222">LR-EM</text>
<text x="325.10" y="292.8" font-size="11" text-anchor="middle" fill="#222">(No Erosion)</text>
<line x1="378.10" y1="267.8" x2="378.10" y2="270.5" stroke="#222" stroke-width="0.9"/>
<text x="378.30" y="280.7" font-size="11" text-anchor="middle" fill="#222">RF-EM</text>
<line x1="431.40" y1="267.8" x2="431.40" y2="270.5" stroke="#222" stroke-width="0.9"/>
<text x="431.60" y="280.7" font-size="11" text-anchor="middle" fill="#222">RF-EM</text>
<text x="431.60" y="292.8" font-size="11" text-anchor="middle" fill="#222">(No Erosion)</text>
<text transform="translate(14.3,144.6) rotate(-90)" font-size="11.2" text-anchor="middle" fill="#222">FoM (%)</text>
<rect x="327" y="28.5" width="122.5" height="59.5" rx="2.5" fill="#fff" fill-opacity="0.85" stroke="#444" stroke-width="0.9"/>
<rect x="330.3" y="32.30" width="19.7" height="7.2" fill="#23857a" stroke="#333" stroke-width="0.8"/>
<text x="358.0" y="39.60" font-size="10" fill="#222">LR-EM</text>
<rect x="330.3" y="46.80" width="19.7" height="7.2" fill="#98d5ca" stroke="#333" stroke-width="0.8"/>
<text x="358.0" y="54.10" font-size="10" fill="#222">LR-EM(No Erosion)</text>
<rect x="330.3" y="61.30" width="19.7" height="7.2" fill="#2a7fbf" stroke="#333" stroke-width="0.8"/>
<text x="358.0" y="68.60" font-size="10" fill="#222">RF-EM</text>
<rect x="330.3" y="75.80" width="19.7" height="7.2" fill="#a6cce6" stroke="#333" stroke-width="0.8"/>
<text x="358.0" y="83.10" font-size="10" fill="#222">RF-EM(No Erosion)</text>
<line x1="468.50" y1="174.5" x2="468.50" y2="192.5" stroke="#222" stroke-width="1"/>
<line x1="464" y1="174.5" x2="473" y2="174.5" stroke="#222" stroke-width="1"/>
<rect x="464.5" y="192.5" width="8" height="56" fill="#fff" stroke="#222" stroke-width="1"/>
<line x1="464.5" y1="209.5" x2="472.5" y2="209.5" stroke="#222" stroke-width="1"/>
<line x1="468.50" y1="248.5" x2="468.50" y2="269.5" stroke="#222" stroke-width="1"/>
<line x1="464" y1="269.5" x2="473" y2="269.5" stroke="#222" stroke-width="1"/>
<text x="475.4" y="179.4" font-size="10" fill="#111">max</text>
<text x="475.4" y="271.4" font-size="10" fill="#111">min</text>
<text x="475.5" y="198.40" font-size="10" fill="#111">75<tspan font-size="8.6" dx="0.4" dy="-4.3">th</tspan></text>
<text x="475.5" y="214.90" font-size="10" fill="#111">50<tspan font-size="8.6" dx="0.4" dy="-4.3">th</tspan></text>
<text x="475.5" y="253.60" font-size="10" fill="#111">25<tspan font-size="8.6" dx="0.4" dy="-4.3">th</tspan></text>
<rect x="227.9" y="297" width="1.2" height="0.9" fill="#d8d8d8"/>
<rect x="233.9" y="297" width="1.2" height="0.9" fill="#d8d8d8"/>
<rect x="245.9" y="297" width="1.2" height="0.9" fill="#d8d8d8"/>
<rect x="261.9" y="297" width="1.2" height="0.9" fill="#d8d8d8"/>
</svg></body></html>
